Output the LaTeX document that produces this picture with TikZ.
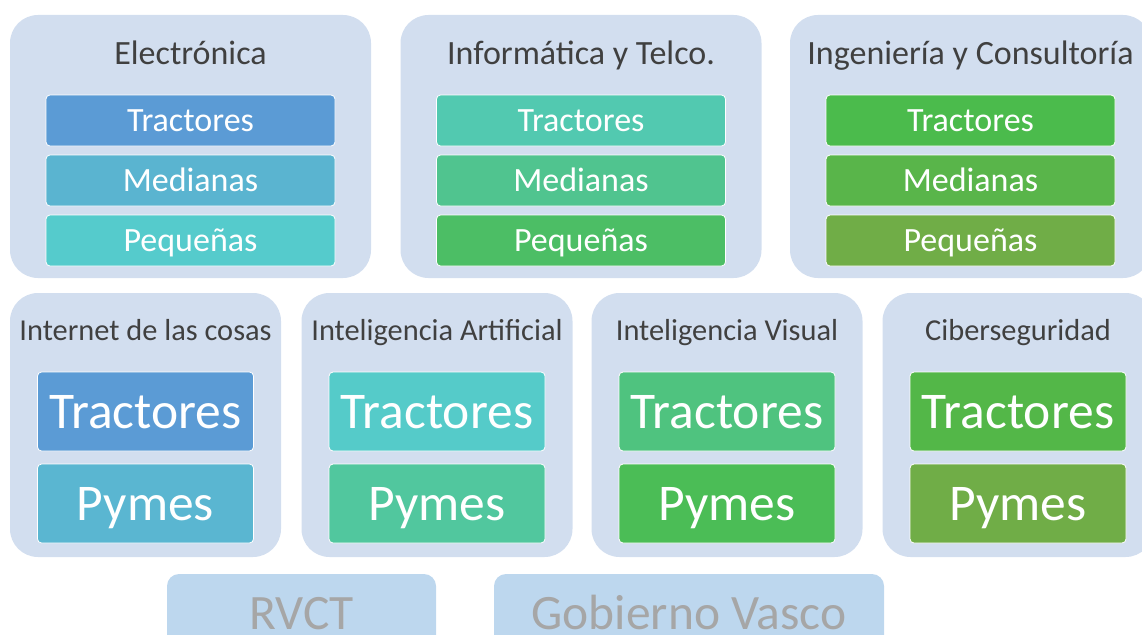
\documentclass[tikz,border=0pt]{standalone}
\usepackage{fontspec}
\setmainfont{Carlito}
\usetikzlibrary{positioning}
\definecolor{panelbg}{HTML}{D2DEEF}
\definecolor{titlegray}{HTML}{404040}
\definecolor{footbg}{HTML}{BDD7EE}
\definecolor{footgray}{HTML}{A6A6A6}
\definecolor{tA}{HTML}{5B9BD5}
\definecolor{tB}{HTML}{5AB4D0}
\definecolor{tC}{HTML}{55CBCC}
\definecolor{tD}{HTML}{52C9B0}
\definecolor{tE}{HTML}{50C48F}
\definecolor{tF}{HTML}{4CBE65}
\definecolor{tG}{HTML}{4BBB4C}
\definecolor{tH}{HTML}{59B54A}
\definecolor{tI}{HTML}{70AD47}
\definecolor{bA}{HTML}{5AB6D1}
\definecolor{bB}{HTML}{55CBC9}
\definecolor{bC}{HTML}{51C79E}
\definecolor{bD}{HTML}{4FC37F}
\definecolor{bE}{HTML}{4BBD56}
\definecolor{bF}{HTML}{53B748}
\tikzset{
  panel/.style = {rectangle, fill=panelbg, rounded corners=28pt, inner sep=0pt},
  panel_w/.style = {panel, minimum width=361pt, minimum height=263pt},
  panel_n/.style = {panel, minimum width=271pt, minimum height=264pt},
  title_w/.style = {text=titlegray, inner sep=0pt, text height=21.9pt, text depth=0pt,
    font=\fontsize{34}{40}\selectfont},
  title_n/.style = {text=titlegray, inner sep=0pt, text height=19.6pt, text depth=0pt,
    font=\fontsize{30.4}{36}\selectfont},
  tile/.style = {rectangle, rounded corners=4pt, draw=white, line width=0.8pt,
    text=white, inner sep=0pt, text depth=0pt},
  tile_s/.style = {tile, fill=#1, minimum width=289pt, minimum height=51pt,
    text height=21.9pt, font=\fontsize{34}{40}\selectfont},
  tile_b/.style = {tile, fill=#1, minimum width=216pt, minimum height=79pt,
    text height=33.2pt, font=\fontsize{51.5}{60}\selectfont},
  foot/.style = {rectangle, fill=footbg, rounded corners=12pt, text=footgray,
    minimum height=78pt, inner sep=0pt, text height=32pt, text depth=0pt,
    font=\fontsize{49.5}{58}\selectfont},
}

\begin{document}
\begin{tikzpicture}[x=1pt, y=-1pt]
  \useasboundingbox (0,0) rectangle (1142,634);
  % sectores
  \node [panel_w] (elec) at (190.5,146.5) {};
  \node [title_w] (elec_t) at (190.5,54) {Electrónica};
  \node [tile_s=tA] (elec_1) at (190.5,120.5) {Tractores};
  \node [tile_s=tB] (elec_2) at (190.5,180.5) {Medianas};
  \node [tile_s=tC] (elec_3) at (190.5,240.5) {Pequeñas};

  \node [panel_w] (info) at (581,146.5) {};
  \node [title_w] (info_t) at (581,54) {Informática y Telco.};
  \node [tile_s=tD] (info_1) at (581,120.5) {Tractores};
  \node [tile_s=tE] (info_2) at (581,180.5) {Medianas};
  \node [tile_s=tF] (info_3) at (581,240.5) {Pequeñas};

  \node [panel_w] (inge) at (970.5,146.5) {};
  \node [title_w] (inge_t) at (970.5,54) {Ingeniería y Consultoría};
  \node [tile_s=tG] (inge_1) at (970.5,120.5) {Tractores};
  \node [tile_s=tH] (inge_2) at (970.5,180.5) {Medianas};
  \node [tile_s=tI] (inge_3) at (970.5,240.5) {Pequeñas};

  % tecnologias
  \node [panel_n] (iot) at (145.5,425) {};
  \node [title_n] (iot_t) at (145.5,331) {Internet de las cosas};
  \node [tile_b=tA] (iot_1) at (145.5,411.5) {Tractores};
  \node [tile_b=bA] (iot_2) at (145.5,503.5) {Pymes};

  \node [panel_n] (ia) at (437,425) {};
  \node [title_n] (ia_t) at (437,331) {Inteligencia Artificial};
  \node [tile_b=bB] (ia_1) at (437,411.5) {Tractores};
  \node [tile_b=bC] (ia_2) at (437,503.5) {Pymes};

  \node [panel_n] (iv) at (727,425) {};
  \node [title_n] (iv_t) at (727,331) {Inteligencia Visual};
  \node [tile_b=bD] (iv_1) at (727,411.5) {Tractores};
  \node [tile_b=bE] (iv_2) at (727,503.5) {Pymes};

  \node [panel_n] (ciber) at (1018,425) {};
  \node [title_n] (ciber_t) at (1018,331) {Ciberseguridad};
  \node [tile_b=bF] (ciber_1) at (1018,411.5) {Tractores};
  \node [tile_b=tI] (ciber_2) at (1018,503.5) {Pymes};

  % soporte
  \node [foot, minimum width=269pt] (rvct) at (301.5,613) {RVCT};
  \node [foot, minimum width=390pt] (gv) at (689,613) {Gobierno Vasco};
\end{tikzpicture}
\end{document}
